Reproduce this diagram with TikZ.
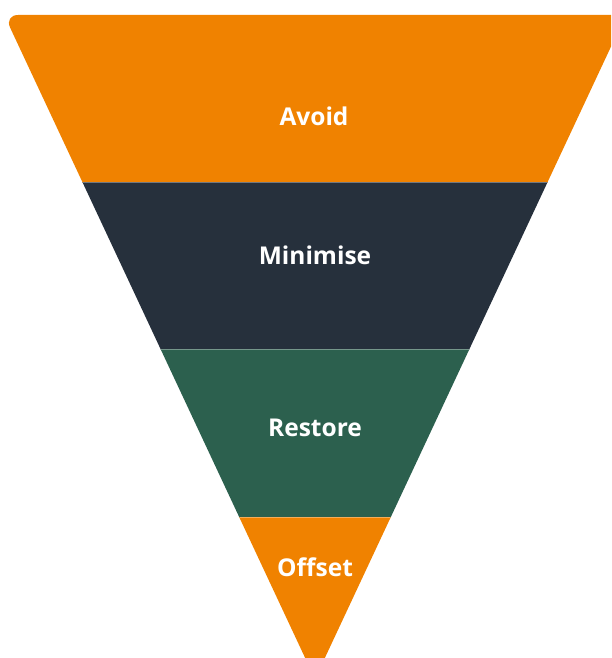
\documentclass[tikz,border=0pt]{standalone}
\usepackage{fontspec}
\setmainfont{Open Sans}
\definecolor{funorange}{HTML}{F08200}
\definecolor{fundark}{HTML}{26303C}
\definecolor{fungreen}{HTML}{2C604E}
\begin{document}
\begin{tikzpicture}[x=1pt,y=-1pt,
  lbl/.style={text=white,inner sep=0pt,font=\fontsize{24.5}{28}\selectfont\bfseries},
  sep/.style={white,opacity=0.35,line width=0.8pt}]
\useasboundingbox (0,0) rectangle (611,658);
\clip (0,0) rectangle (611,658);
\foreach \ya/\yb/\c in {0/182/funorange,182/349/fundark,349/517/fungreen,517/700/funorange}{
  \begin{scope}
    \clip (0,\ya) rectangle (611,\yb);
    \fill[\c, rounded corners=14pt] (4.2,15) -- (625.8,15) -- (315,679) -- cycle;
  \end{scope}
}
\begin{scope}
  \clip[rounded corners=14pt] (4.2,15) -- (625.8,15) -- (315,679) -- cycle;
  \foreach \y in {182,349,517}{
    \draw[sep] (0,\y) -- (611,\y);
  }
\end{scope}
\node[lbl] (avoid) at (314,116) {Avoid};
\node[lbl] (minimise) at (315,255) {Minimise};
\node[lbl] (restore) at (315,428) {Restore};
\node[lbl] (offset) at (315,567) {Offset};
\end{tikzpicture}
\end{document}
